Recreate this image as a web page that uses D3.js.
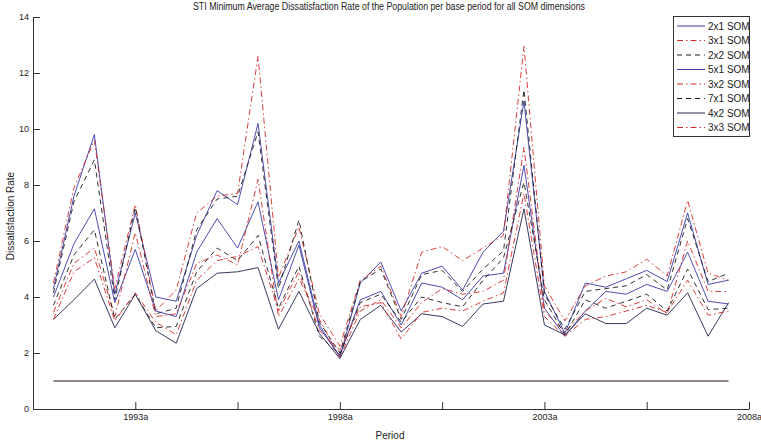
<!DOCTYPE html>
<html>
<head>
<meta charset="utf-8">
<script src="https://cdn.jsdelivr.net/npm/d3@7/dist/d3.min.js"></script>
<style>
  html, body { margin: 0; padding: 0; background: #fff; }
  svg { display: block; font-family: "Liberation Sans", Arial, sans-serif; }
</style>
</head>
<body>
<svg id="chart" width="761" height="445"></svg>
<script>
// ---- data ----
const periods = d3.range(1, 35); // 34 half-year periods, 1991a .. 2007b
const xTickValues = [5, 10, 15, 20, 25, 30, 35];
const xTickLabels = ["1993a", "", "1998a", "", "2003a", "", "2008a"];
const yTickValues = [0, 2, 4, 6, 8, 10, 12, 14];
const seriesNames = ["2x1 SOM", "3x1 SOM", "2x2 SOM", "5x1 SOM", "3x2 SOM", "7x1 SOM", "4x2 SOM", "3x3 SOM"];

const som2x1 = [4.3, 7.6, 9.8, 4.1, 7.0, 4.0, 3.85, 6.2, 7.8, 7.3, 10.2, 4.5, 6.0, 3.0, 1.85, 4.5, 5.25, 3.5, 4.85, 5.1, 4.25, 5.6, 6.35, 11.0, 4.2, 2.7, 4.5, 4.35, 4.65, 4.95, 4.55, 7.0, 4.45, 4.6];
const som3x1 = [4.5, 7.9, 9.6, 4.3, 7.3, 3.5, 4.25, 7.0, 7.6, 7.7, 12.6, 4.7, 6.5, 3.4, 2.25, 4.6, 5.1, 3.3, 5.6, 5.8, 5.3, 5.75, 6.2, 12.95, 4.4, 3.15, 4.4, 4.75, 4.9, 5.35, 4.75, 7.45, 4.85, 4.6];
const som2x2 = [4.15, 7.4, 8.9, 3.9, 7.2, 3.4, 3.6, 6.4, 7.5, 7.6, 9.9, 4.3, 6.75, 3.1, 2.0, 4.55, 5.0, 3.2, 4.8, 4.95, 4.2, 5.0, 5.65, 11.4, 4.1, 2.85, 4.2, 4.3, 4.4, 4.8, 4.25, 6.8, 4.55, 4.85];
const som5x1 = [4.0, 5.9, 7.15, 3.8, 5.7, 3.5, 3.3, 5.6, 6.8, 5.75, 7.4, 3.9, 5.85, 2.9, 1.9, 3.9, 4.2, 3.0, 4.5, 4.35, 3.9, 4.75, 4.85, 8.7, 3.6, 2.6, 3.5, 4.2, 4.1, 4.45, 4.2, 5.6, 3.85, 3.75];
const som3x2 = [3.45, 5.2, 5.75, 3.3, 6.3, 3.3, 3.4, 5.2, 5.5, 5.15, 8.2, 3.3, 4.65, 3.2, 1.85, 3.5, 3.9, 2.9, 3.8, 4.3, 4.1, 4.2, 4.6, 9.35, 3.5, 2.75, 3.5, 3.95, 3.65, 3.9, 3.4, 6.0, 4.2, 4.2];
const som7x1 = [3.7, 5.5, 6.4, 3.2, 4.1, 2.9, 2.95, 4.9, 5.75, 5.3, 6.2, 3.6, 5.1, 2.6, 1.95, 3.8, 4.1, 3.1, 4.0, 3.8, 3.65, 4.6, 5.4, 8.1, 3.9, 2.65, 3.9, 3.6, 3.85, 4.1, 3.5, 5.0, 3.55, 3.6];
const som4x2 = [3.2, 3.9, 4.64, 2.9, 4.1, 2.8, 2.35, 4.3, 4.85, 4.9, 5.05, 2.85, 4.2, 2.7, 1.8, 3.2, 3.7, 2.75, 3.4, 3.3, 2.95, 3.75, 3.85, 7.15, 3.0, 2.65, 3.4, 3.05, 3.05, 3.6, 3.35, 4.15, 2.6, 3.8];
const som3x3 = [3.2, 4.9, 5.4, 3.15, 4.15, 3.1, 2.65, 4.6, 5.3, 5.45, 5.8, 3.5, 4.9, 2.8, 2.1, 3.65, 3.8, 2.5, 3.45, 3.6, 3.5, 3.85, 4.15, 7.7, 3.3, 2.6, 3.2, 3.3, 3.5, 3.7, 3.45, 4.6, 3.35, 3.5];
const referenceLevel = 1;

// ---- styles ----
const BLUE = "#3a3aa8", RED = "#d42a2a", BLACK = "#1a1a1a", NAVY = "#22224e";
const styles = {
  "2x1 SOM": { color: BLUE, dash: null },
  "3x1 SOM": { color: RED, dash: "6,3,1.5,3" },
  "2x2 SOM": { color: BLACK, dash: "5,4" },
  "5x1 SOM": { color: BLUE, dash: null },
  "3x2 SOM": { color: RED, dash: "6,3,1.5,3" },
  "7x1 SOM": { color: BLACK, dash: "5,4" },
  "4x2 SOM": { color: NAVY, dash: null },
  "3x3 SOM": { color: RED, dash: "6,3,1.5,3" }
};
const seriesValues = [som2x1, som3x1, som2x2, som5x1, som3x2, som7x1, som4x2, som3x3];
const series = seriesNames.map((n, i) => ({ name: n, values: seriesValues[i] }));

// ---- layout ----
const svg = d3.select("#chart");
const plotLeft = 33, plotRight = 749, plotTop = 17, plotBottom = 409;
const x = d3.scaleLinear().domain([0, 35]).range([plotLeft, plotRight]);
const y = d3.scaleLinear().domain([0, 14]).range([plotBottom, plotTop]);

// axes
const xAxis = d3.axisBottom(x).tickValues(xTickValues)
  .tickFormat((d, i) => xTickLabels[i]).tickSizeInner(-7).tickSizeOuter(0).tickPadding(5);
const yAxis = d3.axisLeft(y).tickValues(yTickValues)
  .tickFormat(d3.format("d")).tickSizeInner(-7).tickSizeOuter(0).tickPadding(4);

const gx = svg.append("g").attr("transform", `translate(0,${plotBottom})`).call(xAxis);
const gy = svg.append("g").attr("transform", `translate(${plotLeft},0)`).call(yAxis);
[gx, gy].forEach(g => {
  g.select(".domain").attr("stroke", "#333").attr("stroke-width", 1);
  g.selectAll(".tick line").attr("stroke", "#333");
  g.selectAll(".tick text").attr("fill", "#222").attr("font-size", 9)
    .attr("font-family", "'Liberation Sans', Arial, sans-serif");
});

// reference line
svg.append("line")
  .attr("x1", x(periods[0])).attr("x2", x(periods[periods.length - 1]))
  .attr("y1", y(referenceLevel)).attr("y2", y(referenceLevel))
  .attr("stroke", "#2a0c10").attr("stroke-width", 1.1);

// series lines
const line = d3.line().x((d, i) => x(periods[i])).y(d => y(d));
svg.append("g").selectAll("path").data(series).join("path")
  .attr("d", d => line(d.values))
  .attr("fill", "none")
  .attr("stroke", d => styles[d.name].color)
  .attr("stroke-width", 0.9)
  .attr("stroke-dasharray", d => styles[d.name].dash);

// title & labels
svg.append("text").attr("x", 389).attr("y", 10).attr("text-anchor", "middle")
  .attr("font-size", 10).attr("fill", "#222")
  .attr("textLength", 392).attr("lengthAdjust", "spacingAndGlyphs")
  .text("STI Minimum Average Dissatisfaction Rate of the Population per base period for all SOM dimensions");
svg.append("text").attr("x", 390).attr("y", 439).attr("text-anchor", "middle")
  .attr("font-size", 10).attr("fill", "#222").text("Period");
svg.append("text").attr("transform", "translate(13.5,216) rotate(-90)").attr("text-anchor", "middle")
  .attr("font-size", 10).attr("fill", "#222").text("Dissatisfaction Rate");

// legend
const lg = svg.append("g");
lg.append("rect").attr("x", 673.5).attr("y", 16.5).attr("width", 76).attr("height", 120)
  .attr("fill", "#fff").attr("stroke", "#333").attr("stroke-width", 1);
series.forEach((s, i) => {
  const yy = 26 + i * 14.5;
  lg.append("line").attr("x1", 677).attr("x2", 705).attr("y1", yy).attr("y2", yy)
    .attr("stroke", styles[s.name].color).attr("stroke-width", 1)
    .attr("stroke-dasharray", styles[s.name].dash);
  lg.append("text").attr("x", 708).attr("y", yy + 3.5).attr("font-size", 10)
    .attr("fill", "#222").text(s.name);
});
</script>
</body>
</html>
